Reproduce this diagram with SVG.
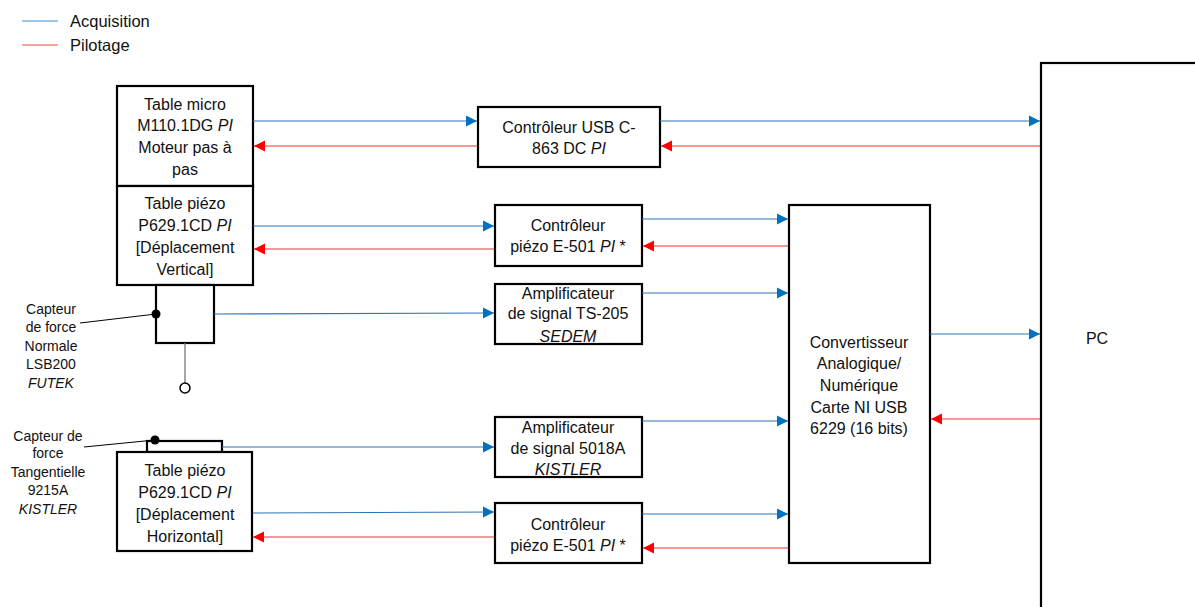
<svg xmlns="http://www.w3.org/2000/svg" width="1195" height="607" viewBox="0 0 1195 607">
<style>
.box{fill:#fff;stroke:#000;stroke-width:2.2}
.t{font-family:"Liberation Sans",Arial,sans-serif;font-size:16px;fill:#111;text-anchor:middle}
.s{font-family:"Liberation Sans",Arial,sans-serif;font-size:14px;fill:#111;text-anchor:middle}
.i{font-style:italic}
.b{stroke:#2e75b6;stroke-width:1.2;fill:none}
.r{stroke:#f03030;stroke-width:1.2;fill:none}
</style>
<defs>
<marker id="ab" markerUnits="userSpaceOnUse" markerWidth="12" markerHeight="12" refX="11" refY="6" orient="auto"><path d="M0,0.5 L11,6 L0,11.5 Z" fill="#0070c0"/></marker>
<marker id="ar" markerUnits="userSpaceOnUse" markerWidth="12" markerHeight="12" refX="11" refY="6" orient="auto"><path d="M0,0.5 L11,6 L0,11.5 Z" fill="#ff0000"/></marker>
</defs>
<rect width="1195" height="607" fill="#fff"/>
<g id="legend">
<line x1="22" y1="21" x2="58" y2="21" stroke="#7fb3dc" stroke-width="1.5"/>
<text x="70" y="27" class="t" style="text-anchor:start;font-size:16.5px">Acquisition</text>
<line x1="22" y1="45" x2="58" y2="45" stroke="#f08585" stroke-width="1.5"/>
<text x="70" y="51" class="t" style="text-anchor:start;font-size:16.5px">Pilotage</text>
</g>
<g id="pc"><rect x="1041" y="63" width="170" height="560" class="box"/><text x="1097" y="344" class="t">PC</text></g>
<g id="table-micro"><rect x="117" y="86" width="136" height="100" class="box"/>
<text class="t" x="185" y="110">Table micro</text>
<text class="t" x="185" y="131">M110.1DG <tspan class="i">PI</tspan></text>
<text class="t" x="185" y="153">Moteur pas à</text>
<text class="t" x="185" y="175">pas</text></g>
<g id="table-piezo-v"><rect x="117" y="186" width="136" height="99" class="box"/>
<text class="t" x="185" y="209">Table piézo</text>
<text class="t" x="185" y="231">P629.1CD <tspan class="i">PI</tspan></text>
<text class="t" x="185" y="253">[Déplacement</text>
<text class="t" x="185" y="275">Vertical]</text></g>
<g id="capteur-normal">
<rect x="156" y="285" width="58" height="58" class="box"/>
<line x1="185" y1="343" x2="185" y2="383" stroke="#777" stroke-width="1.3"/>
<circle cx="185" cy="388" r="5" fill="#fff" stroke="#000" stroke-width="1.5"/>
<circle cx="156" cy="314" r="4.5" fill="#000"/>
<line x1="156" y1="314" x2="80" y2="323" stroke="#000" stroke-width="1"/>
<text class="s" x="51" y="314">Capteur</text>
<text class="s" x="51" y="332">de force</text>
<text class="s" x="51" y="351">Normale</text>
<text class="s" x="51" y="369">LSB200</text>
<text class="s i" x="51" y="388">FUTEK</text></g>
<g id="capteur-tangentiel">
<rect x="147" y="441" width="75" height="11" class="box"/>
<circle cx="155" cy="440" r="4.5" fill="#000"/>
<line x1="155" y1="440" x2="84" y2="447" stroke="#000" stroke-width="1"/>
<text class="s" x="48" y="441">Capteur de</text>
<text class="s" x="48" y="458">force</text>
<text class="s" x="48" y="477">Tangentielle</text>
<text class="s" x="48" y="495">9215A</text>
<text class="s i" x="48" y="514">KISTLER</text></g>
<g id="table-piezo-h"><rect x="117" y="452" width="135" height="99" class="box"/>
<text class="t" x="185" y="476">Table piézo</text>
<text class="t" x="185" y="498">P629.1CD <tspan class="i">PI</tspan></text>
<text class="t" x="185" y="520">[Déplacement</text>
<text class="t" x="185" y="542">Horizontal]</text></g>
<g id="ctrl-usb"><rect x="478" y="107" width="182" height="60" class="box"/>
<text class="t" x="569" y="133">Contrôleur USB C-</text>
<text class="t" x="569" y="154">863 DC <tspan class="i">PI</tspan></text></g>
<g id="ctrl-piezo-1"><rect x="495" y="205" width="147" height="61" class="box"/>
<text class="t" x="568" y="231">Contrôleur</text>
<text class="t" x="568" y="252">piézo E-501 <tspan class="i">PI</tspan> *</text></g>
<g id="ampli-ts205"><rect x="495" y="284" width="147" height="60" class="box"/>
<text class="t" x="568" y="299">Amplificateur</text>
<text class="t" x="568" y="319">de signal TS-205</text>
<text class="t i" x="568" y="342">SEDEM</text></g>
<g id="ampli-5018a"><rect x="495" y="417" width="147" height="60" class="box"/>
<text class="t" x="568" y="433">Amplificateur</text>
<text class="t" x="568" y="454">de signal 5018A</text>
<text class="t i" x="568" y="475">KISTLER</text></g>
<g id="ctrl-piezo-2"><rect x="495" y="503" width="147" height="60" class="box"/>
<text class="t" x="568" y="530">Contrôleur</text>
<text class="t" x="568" y="551">piézo E-501 <tspan class="i">PI</tspan> *</text></g>
<g id="convertisseur"><rect x="789" y="205" width="141" height="358" class="box"/>
<text class="t" x="859" y="348">Convertisseur</text>
<text class="t" x="859" y="369">Analogique/</text>
<text class="t" x="859" y="391">Numérique</text>
<text class="t" x="859" y="413">Carte NI USB</text>
<text class="t" x="859" y="434">6229 (16 bits)</text></g>
<g id="connectors">
<line class="b" x1="253" y1="121" x2="477" y2="121" marker-end="url(#ab)"/>
<line class="r" x1="477" y1="146" x2="254" y2="146" marker-end="url(#ar)"/>
<line class="b" x1="660" y1="121" x2="1040" y2="121" marker-end="url(#ab)"/>
<line class="r" x1="1040" y1="146" x2="661" y2="146" marker-end="url(#ar)"/>
<line class="b" x1="253" y1="226" x2="494" y2="226" marker-end="url(#ab)"/>
<line class="r" x1="494" y1="249" x2="254" y2="249" marker-end="url(#ar)"/>
<line class="b" x1="642" y1="219" x2="788" y2="219" marker-end="url(#ab)"/>
<line class="r" x1="788" y1="246" x2="643" y2="246" marker-end="url(#ar)"/>
<line class="b" x1="214" y1="314" x2="494" y2="313" marker-end="url(#ab)"/>
<line class="b" x1="642" y1="293" x2="788" y2="293" marker-end="url(#ab)"/>
<line class="b" x1="930" y1="334" x2="1040" y2="334" marker-end="url(#ab)"/>
<line class="r" x1="1040" y1="419" x2="931" y2="419" marker-end="url(#ar)"/>
<line class="b" x1="222" y1="447" x2="494" y2="447" marker-end="url(#ab)"/>
<line class="b" x1="642" y1="421" x2="788" y2="421" marker-end="url(#ab)"/>
<line class="b" x1="253" y1="513" x2="494" y2="512" marker-end="url(#ab)"/>
<line class="r" x1="494" y1="537" x2="253" y2="537" marker-end="url(#ar)"/>
<line class="b" x1="642" y1="514" x2="788" y2="514" marker-end="url(#ab)"/>
<line class="r" x1="788" y1="548" x2="643" y2="548" marker-end="url(#ar)"/>
</g>
</svg>
